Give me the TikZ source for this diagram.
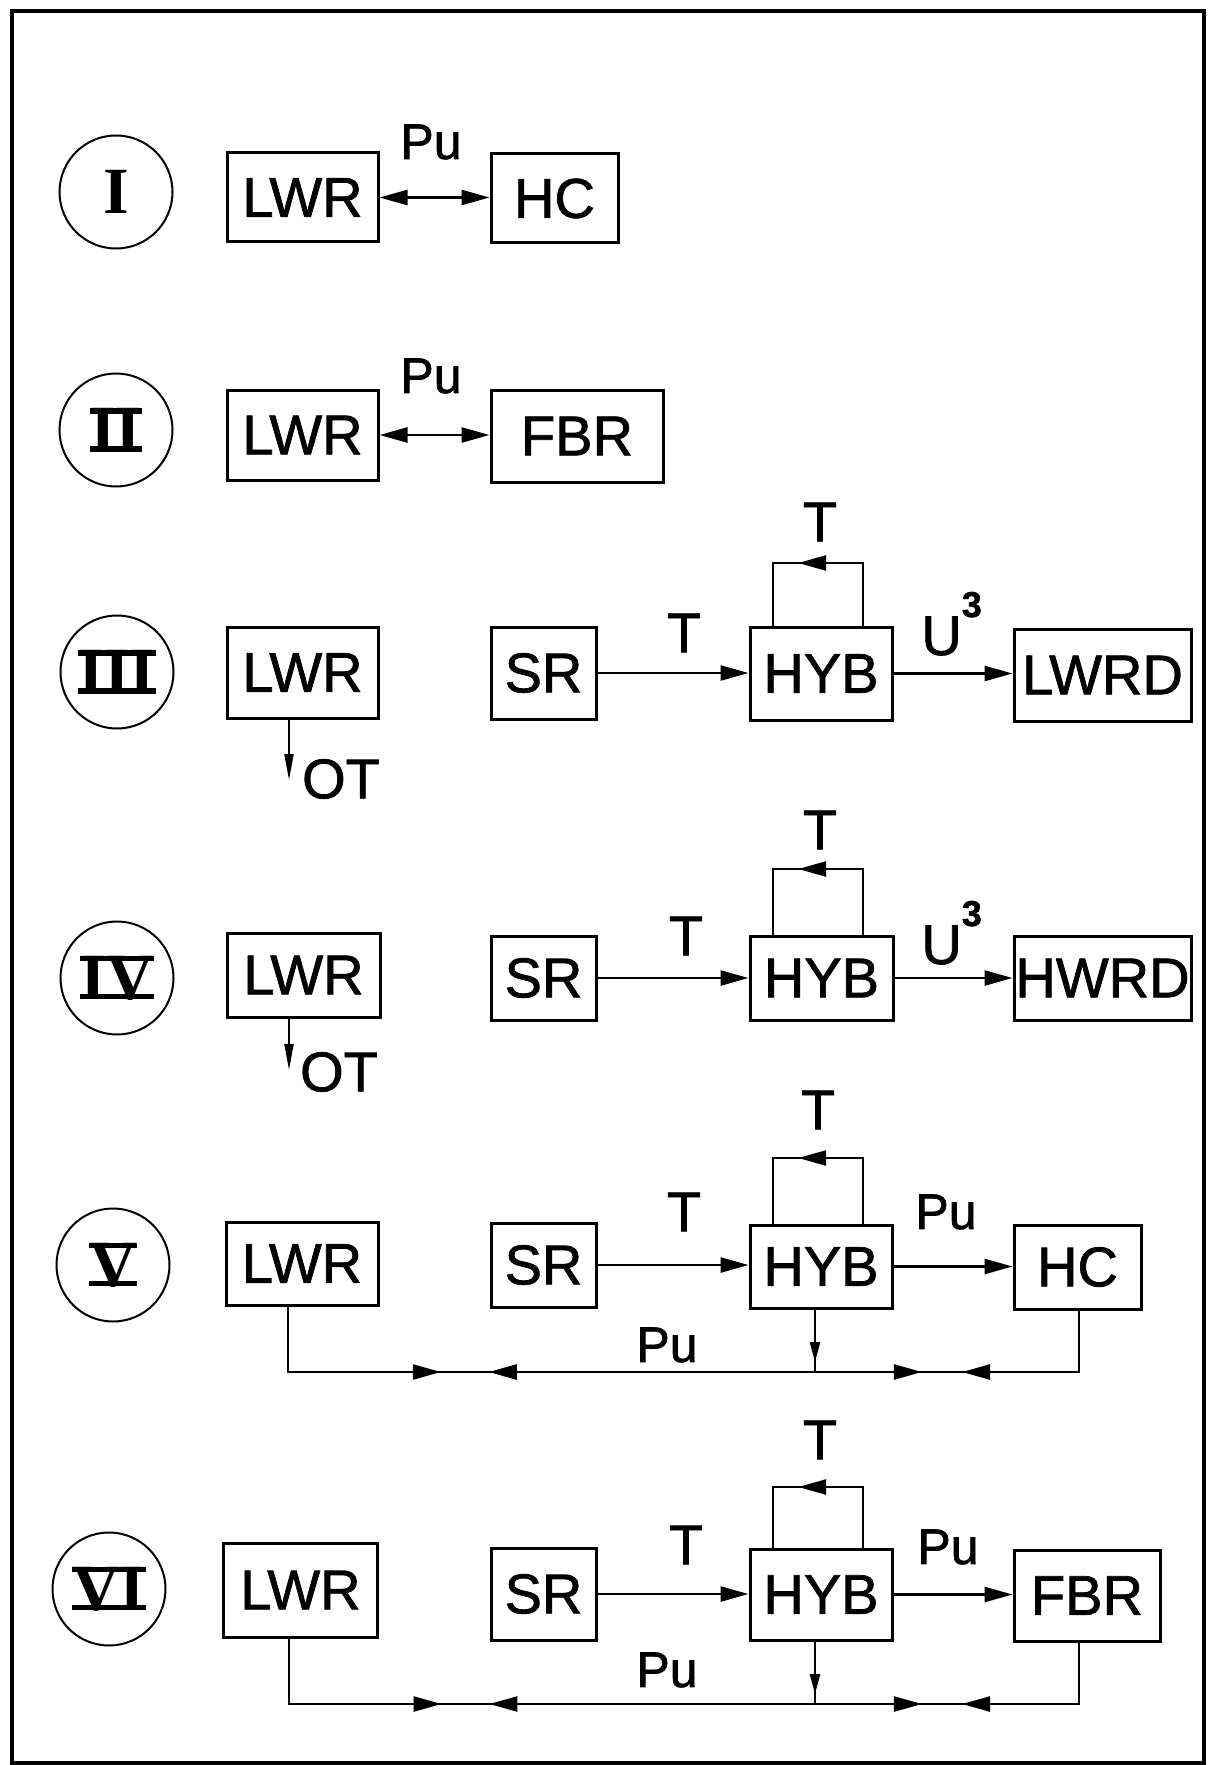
\documentclass[tikz,border=0pt]{standalone}
\usepackage{fontspec}
\setmainfont{Liberation Sans}
\newfontfamily\lettering[FakeBold=1.3]{Liberation Sans}
\newfontfamily\rmnfont{Liberation Serif}
\usetikzlibrary{arrows.meta,decorations.markings}
\newcommand\rnumbar[1]{\setbox0=\hbox{#1}\rlap{\rule[\dimexpr\ht0-2.6pt\relax]{\wd0}{2.6pt}}\rlap{\rule{\wd0}{2.6pt}}\box0}
\tikzset{
  tri/.tip={Triangle[length=14pt,width=7.5pt]},
  smalltri/.tip={Triangle[length=10pt,width=5pt]},
  frame/.style={line width=2.2pt},
  box/.style={draw, line width=1.5pt, inner sep=0pt, font=\lettering\fontsize{28}{30}\selectfont},
  numc/.style={draw, circle, line width=1pt, minimum size=56.5pt, inner sep=0pt, font=\rmnfont\bfseries\fontsize{33}{35}\selectfont},
  lbl/.style={inner sep=0pt, font=\lettering\fontsize{28}{30}\selectfont},
  pul/.style={inner sep=0pt, font=\lettering\fontsize{25}{27}\selectfont},
  conn/.style={line width=1.3pt},
  arr/.style={conn, -tri},
  darr/.style={conn, tri-tri},
  otarr/.style={line width=1pt, -{Triangle[length=13pt,width=4.5pt]}},
  loopmark/.style={postaction={decorate,decoration={markings,mark=at position 0.72 with {\arrow{tri}}}}},
  dnmark/.style={postaction={decorate,decoration={markings,mark=at position 0.84 with {\arrow{smalltri}}}}},
  pairmarks/.style 2 args={postaction={decorate,decoration={markings,mark=at position #1 with {\arrow{tri}},mark=at position #2 with {\arrowreversed{tri}}}}},
}
\begin{document}
\begin{tikzpicture}[x=0.5pt,y=-0.5pt]
\useasboundingbox (0,0) rectangle (1209,1765);
\draw[frame] (12,11) rectangle (1204,1763);

% ---------- Row I ----------
\node[numc] (n1) at (116,192) {I};
\node[box, minimum width=75.5pt, minimum height=44.5pt] (lwr1) at (302.5,197.5) {LWR};
\node[box, minimum width=63.5pt, minimum height=44.5pt] (hc1) at (554.5,198.5) {HC};
\draw[darr] (lwr1.east) -- (hc1.west |- lwr1.east);
\node[pul] (pu1) at (431,142) {Pu};

% ---------- Row II ----------
\node[numc] (n2) at (116,430) {\rnumbar{II}};
\node[box, minimum width=75.5pt, minimum height=45pt] (lwr2) at (302.5,435) {LWR};
\node[box, minimum width=86pt, minimum height=46pt] (fbr2) at (577,436) {FBR};
\draw[darr] (lwr2.east) -- (fbr2.west |- lwr2.east);
\node[pul] (pu2) at (431,376) {Pu};

% ---------- Row III ----------
\node[numc] (n3) at (117,672) {\rnumbar{III}};
\node[box, minimum width=75.5pt, minimum height=45.5pt] (lwr3) at (302.5,672.5) {LWR};
\coordinate (ot3) at (289,780);
\draw[otarr] (lwr3.south -| ot3) -- (ot3);
\node[lbl] (otl3) at (341,779) {OT};
\node[box, minimum width=52.5pt, minimum height=46pt] (sr3) at (543.5,673) {SR};
\node[box, minimum width=71pt, minimum height=46.5pt] (hyb3) at (821,673.5) {HYB};
\node[box, minimum width=88.5pt, minimum height=46pt] (lwrd3) at (1102.5,675) {LWRD};
\draw[arr] (sr3.east) -- (hyb3.west |- sr3.east);
\draw[arr] (hyb3.east) -- (lwrd3.west |- hyb3.east);
\coordinate (l3a) at (863,563);
\coordinate (l3b) at (773,563);
\draw[conn] (hyb3.north -| l3a) -- (l3a) -- (l3b) -- (hyb3.north -| l3b);
\draw[conn, loopmark] (l3a) -- (l3b);
\node[lbl] (t3a) at (820,522) {T};
\node[lbl] (t3b) at (684,633) {T};
\node[lbl, anchor=base west] (u3) at (921,655) {U\raisebox{19pt}{\fontsize{18}{18}\selectfont\bfseries 3}};

% ---------- Row IV ----------
\node[numc] (n4) at (117,978) {\rnumbar{IV}};
\node[box, minimum width=76.5pt, minimum height=42pt] (lwr4) at (303.5,975) {LWR};
\coordinate (ot4) at (289,1070);
\draw[otarr] (lwr4.south -| ot4) -- (ot4);
\node[lbl] (otl4) at (339,1072) {OT};
\node[box, minimum width=52.5pt, minimum height=42pt] (sr4) at (543.5,978) {SR};
\node[box, minimum width=71.5pt, minimum height=42pt] (hyb4) at (821.5,978) {HYB};
\node[box, minimum width=88.5pt, minimum height=42pt] (hwrd4) at (1102.5,978) {HWRD};
\draw[arr] (sr4.east) -- (hyb4.west |- sr4.east);
\draw[arr] (hyb4.east) -- (hwrd4.west |- hyb4.east);
\coordinate (l4a) at (863,869);
\coordinate (l4b) at (773,869);
\draw[conn] (hyb4.north -| l4a) -- (l4a) -- (l4b) -- (hyb4.north -| l4b);
\draw[conn, loopmark] (l4a) -- (l4b);
\node[lbl] (t4a) at (820,830) {T};
\node[lbl] (t4b) at (686,936) {T};
\node[lbl, anchor=base west] (u4) at (921,964) {U\raisebox{19pt}{\fontsize{18}{18}\selectfont\bfseries 3}};

% ---------- Row V ----------
\node[numc] (n5) at (113,1265) {\rnumbar{V}};
\node[box, minimum width=76pt, minimum height=41.5pt] (lwr5) at (302,1263.5) {LWR};
\node[box, minimum width=52.5pt, minimum height=42pt] (sr5) at (543.5,1265) {SR};
\node[box, minimum width=71pt, minimum height=41.5pt] (hyb5) at (821,1266.5) {HYB};
\node[box, minimum width=63.5pt, minimum height=42pt] (hc5) at (1077.5,1267) {HC};
\draw[arr] (sr5.east) -- (hyb5.west |- sr5.east);
\draw[arr] (hyb5.east) -- (hc5.west |- hyb5.east);
\coordinate (l5a) at (863,1158);
\coordinate (l5b) at (773,1158);
\draw[conn] (hyb5.north -| l5a) -- (l5a) -- (l5b) -- (hyb5.north -| l5b);
\draw[conn, loopmark] (l5a) -- (l5b);
\node[lbl] (t5a) at (818,1110) {T};
\node[lbl] (t5b) at (684,1212) {T};
\node[pul] (pu5a) at (946,1212) {Pu};
\node[pul] (pu5b) at (667,1345) {Pu};
\coordinate (b5l) at (288,1372);
\coordinate (b5m) at (815,1372);
\coordinate (b5r) at (1079,1372);
\draw[conn] (lwr5.south -| b5l) -- (b5l) -- (b5r) -- (hc5.south -| b5r);
\draw[conn, pairmarks={0.290}{0.381}] (b5l) -- (b5m);
\draw[conn, pairmarks={0.405}{0.557}] (b5m) -- (b5r);
\draw[conn, dnmark] (hyb5.south -| b5m) -- (b5m);

% ---------- Row VI ----------
\node[numc] (n6) at (109,1589) {\rnumbar{VI}};
\node[box, minimum width=77pt, minimum height=47pt] (lwr6) at (300.5,1590) {LWR};
\node[box, minimum width=52.5pt, minimum height=46pt] (sr6) at (543.5,1594) {SR};
\node[box, minimum width=71pt, minimum height=45.5pt] (hyb6) at (821,1594.5) {HYB};
\node[box, minimum width=73pt, minimum height=45.5pt] (fbr6) at (1087,1595.5) {FBR};
\draw[arr] (sr6.east) -- (hyb6.west |- sr6.east);
\draw[arr] (hyb6.east) -- (fbr6.west |- hyb6.east);
\coordinate (l6a) at (863,1487);
\coordinate (l6b) at (773,1487);
\draw[conn] (hyb6.north -| l6a) -- (l6a) -- (l6b) -- (hyb6.north -| l6b);
\draw[conn, loopmark] (l6a) -- (l6b);
\node[lbl] (t6a) at (820,1440) {T};
\node[lbl] (t6b) at (686,1545) {T};
\node[pul] (pu6a) at (948,1547) {Pu};
\node[pul] (pu6b) at (667,1670) {Pu};
\coordinate (b6l) at (289,1704);
\coordinate (b6m) at (815,1704);
\coordinate (b6r) at (1079,1704);
\draw[conn] (lwr6.south -| b6l) -- (b6l) -- (b6r) -- (fbr6.south -| b6r);
\draw[conn, pairmarks={0.290}{0.381}] (b6l) -- (b6m);
\draw[conn, pairmarks={0.405}{0.557}] (b6m) -- (b6r);
\draw[conn, dnmark] (hyb6.south -| b6m) -- (b6m);
\end{tikzpicture}
\end{document}
